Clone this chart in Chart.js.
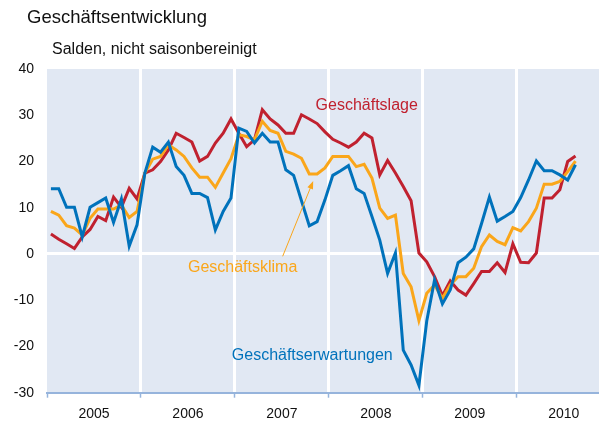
<!DOCTYPE html>
<html>
<head>
<meta charset="utf-8">
<script src="https://cdn.jsdelivr.net/npm/chart.js@4.4.1/dist/chart.umd.min.js"></script>
<style>
  html, body { margin: 0; padding: 0; background: #fff; }
</style>
</head>
<body>
<canvas id="myChart" width="599" height="423"></canvas>
<script>
// monthly balances, Jan 2005 - Aug 2010
const years = ['2005', '2006', '2007', '2008', '2009', '2010'];

const geschaeftslage = [
    4.3, 3.2, 2.2, 1.2, 3.7, 5.3, 8.1, 7.2, 12.3, 10.1, 14.2, 11.9,
    17.5, 18.2, 20.0, 22.5, 26.1, 25.2, 24.2, 20.1, 21.1, 24.0, 26.1, 29.2,
    26.1, 23.2, 24.7, 31.2, 29.2, 27.9, 26.1, 26.1, 30.1, 29.2, 28.2, 26.4,
    24.8, 24.0, 23.1, 24.2, 26.1, 25.1, 17.1, 20.2, 17.5, 14.6, 11.5, 0.2,
    -1.7, -4.9, -9.0, -5.8, -7.8, -8.9, -6.4, -3.8, -3.8, -1.9, -4.0, 2.2,
    -1.8, -1.9, 0.2, 12.1, 12.1, 13.9, 20.0, 21.2
];
const geschaeftsklima = [
    9.2, 8.4, 6.1, 5.6, 4.1, 7.7, 9.7, 9.7, 9.7, 10.6, 7.9, 9.2,
    17.5, 20.5, 21.1, 23.6, 22.5, 21.1, 18.6, 16.6, 16.6, 14.4, 17.5, 20.6,
    25.8, 25.4, 24.7, 28.7, 26.7, 26.1, 22.2, 21.6, 20.7, 17.3, 17.3, 18.6,
    21.1, 21.1, 21.1, 18.9, 19.4, 16.4, 9.9, 7.7, 8.4, -4.2, -7.1, -14.4,
    -8.5, -6.7, -9.6, -6.7, -4.9, -4.9, -3.1, 1.6, 4.1, 2.7, 2.0, 5.7,
    5.0, 7.0, 9.9, 15.1, 15.1, 15.7, 17.8, 20.1
];
const geschaeftserwartungen = [
    14.1, 14.1, 10.1, 10.1, 3.7, 10.1, 11.1, 12.1, 6.8, 11.9, 1.7, 6.3,
    17.5, 23.1, 22.0, 24.2, 18.9, 17.0, 13.1, 13.1, 12.2, 5.2, 9.2, 12.1,
    27.2, 26.5, 24.0, 26.1, 24.2, 24.2, 18.2, 17.0, 11.5, 6.1, 7.0, 11.7,
    17.0, 18.0, 19.1, 14.1, 13.1, 8.1, 3.0, -4.2, 0.2, -20.8, -24.0, -28.4,
    -14.5, -5.6, -10.8, -7.8, -1.9, -0.7, 1.1, 6.6, 12.3, 7.1, 8.1, 9.2,
    12.2, 16.0, 20.1, 18.0, 18.0, 17.1, 16.0, 19.3
];

const RED = 'rgb(192, 33, 47)';
const ORANGE = 'rgb(250, 166, 26)';
const BLUE = 'rgb(0, 114, 187)';
const PLOT_BG = 'rgb(225, 232, 243)';
const AXIS_BLUE = 'rgb(150, 180, 220)';
const FONT = 'Liberation Sans, Arial, sans-serif';

// month i sits in the middle of its month slot
const toPoints = (arr) => arr.map((v, i) => ({ x: i + 0.5, y: v }));

// series labels and arrow, in data units
const seriesLabels = [
    { text: 'Geschäftslage', x: 34.3, y: 32.0, color: RED },
    { text: 'Geschäftsklima', x: 18.0, y: -3.0, color: ORANGE },
    { text: 'Geschäftserwartungen', x: 23.6, y: -21.9, color: BLUE }
];
const klimaArrow = { from: [30.1, -0.5], to: [34.0, 15.8] };

const decorPlugin = {
    id: 'decor',
    beforeDraw(chart) {
        const { ctx, chartArea } = chart;
        ctx.save();
        ctx.fillStyle = PLOT_BG;
        ctx.fillRect(chartArea.left, chartArea.top, chartArea.right - chartArea.left, chartArea.bottom - chartArea.top);
        ctx.restore();
    },
    afterDraw(chart) {
        const { ctx } = chart;
        const xs = chart.scales.x, ys = chart.scales.y;
        ctx.save();
        ctx.textBaseline = 'middle';
        ctx.textAlign = 'left';
        ctx.fillStyle = '#111';
        ctx.font = '18.5px ' + FONT;
        ctx.fillText('Geschäftsentwicklung', 27, 18);
        ctx.font = '16px ' + FONT;
        ctx.fillText('Salden, nicht saisonbereinigt', 52, 50);

        ctx.font = '16px ' + FONT;
        seriesLabels.forEach(l => {
            ctx.fillStyle = l.color;
            ctx.fillText(l.text, xs.getPixelForValue(l.x), ys.getPixelForValue(l.y));
        });

        // arrow to the Geschäftsklima line
        const x1 = xs.getPixelForValue(klimaArrow.from[0]), y1 = ys.getPixelForValue(klimaArrow.from[1]);
        const x2 = xs.getPixelForValue(klimaArrow.to[0]), y2 = ys.getPixelForValue(klimaArrow.to[1]);
        const ang = Math.atan2(y2 - y1, x2 - x1);
        ctx.strokeStyle = ORANGE;
        ctx.fillStyle = ORANGE;
        ctx.lineWidth = 1;
        ctx.beginPath();
        ctx.moveTo(x1, y1);
        ctx.lineTo(x2 - 5 * Math.cos(ang), y2 - 5 * Math.sin(ang));
        ctx.stroke();
        ctx.beginPath();
        ctx.moveTo(x2, y2);
        ctx.lineTo(x2 - 8 * Math.cos(ang) + 3 * Math.sin(ang), y2 - 8 * Math.sin(ang) - 3 * Math.cos(ang));
        ctx.lineTo(x2 - 8 * Math.cos(ang) - 3 * Math.sin(ang), y2 - 8 * Math.sin(ang) + 3 * Math.cos(ang));
        ctx.closePath();
        ctx.fill();
        ctx.restore();
    }
};

const ctx = document.getElementById('myChart').getContext('2d');

const myChart = new Chart(ctx, {
    type: 'line',
    data: {
        datasets: [
            {
                label: 'Geschäftserwartungen',
                data: toPoints(geschaeftserwartungen),
                borderColor: BLUE,
                borderWidth: 3,
                pointRadius: 0,
                tension: 0,
                fill: false
            },
            {
                label: 'Geschäftsklima',
                data: toPoints(geschaeftsklima),
                borderColor: ORANGE,
                borderWidth: 3,
                pointRadius: 0,
                tension: 0,
                fill: false
            },
            {
                label: 'Geschäftslage',
                data: toPoints(geschaeftslage),
                borderColor: RED,
                borderWidth: 3,
                pointRadius: 0,
                tension: 0,
                fill: false
            }
        ]
    },
    options: {
        responsive: false,
        animation: false,
        layout: { padding: { top: 69, right: 0, bottom: 0, left: 0 } },
        plugins: {
            legend: { display: false },
            tooltip: { enabled: false }
        },
        scales: {
            x: {
                type: 'linear',
                min: 0,
                max: 70.5,
                afterBuildTicks: (axis) => {
                    axis.ticks = [];
                    for (let v = 0; v <= 66; v += 6) axis.ticks.push({ value: v });
                },
                afterFit: (axis) => { axis.height = 30.3; },
                grid: {
                    color: (c) => (c.tick && c.tick.value % 12 === 0 && c.tick.value > 0) ? '#ffffff' : 'rgba(0,0,0,0)',
                    tickColor: (c) => (c.tick && c.tick.value % 12 === 0) ? AXIS_BLUE : 'rgba(0,0,0,0)',
                    lineWidth: 3,
                    tickWidth: 1.5,
                    tickLength: 5
                },
                border: { color: AXIS_BLUE, width: 2 },
                ticks: {
                    autoSkip: false,
                    maxRotation: 0,
                    padding: 8,
                    color: '#111',
                    font: { family: FONT, size: 14 },
                    callback: (v) => v % 12 === 6 ? years[(v - 6) / 12] : ''
                }
            },
            y: {
                min: -30,
                max: 40,
                afterFit: (axis) => { axis.width = 47; },
                grid: {
                    color: (c) => (c.tick && c.tick.value === 0) ? '#ffffff' : 'rgba(0,0,0,0)',
                    lineWidth: 3,
                    drawTicks: false
                },
                border: { display: false },
                ticks: {
                    stepSize: 10,
                    padding: 13,
                    color: '#111',
                    font: { family: FONT, size: 14 }
                }
            }
        }
    },
    plugins: [decorPlugin]
});
</script>
</body>
</html>
